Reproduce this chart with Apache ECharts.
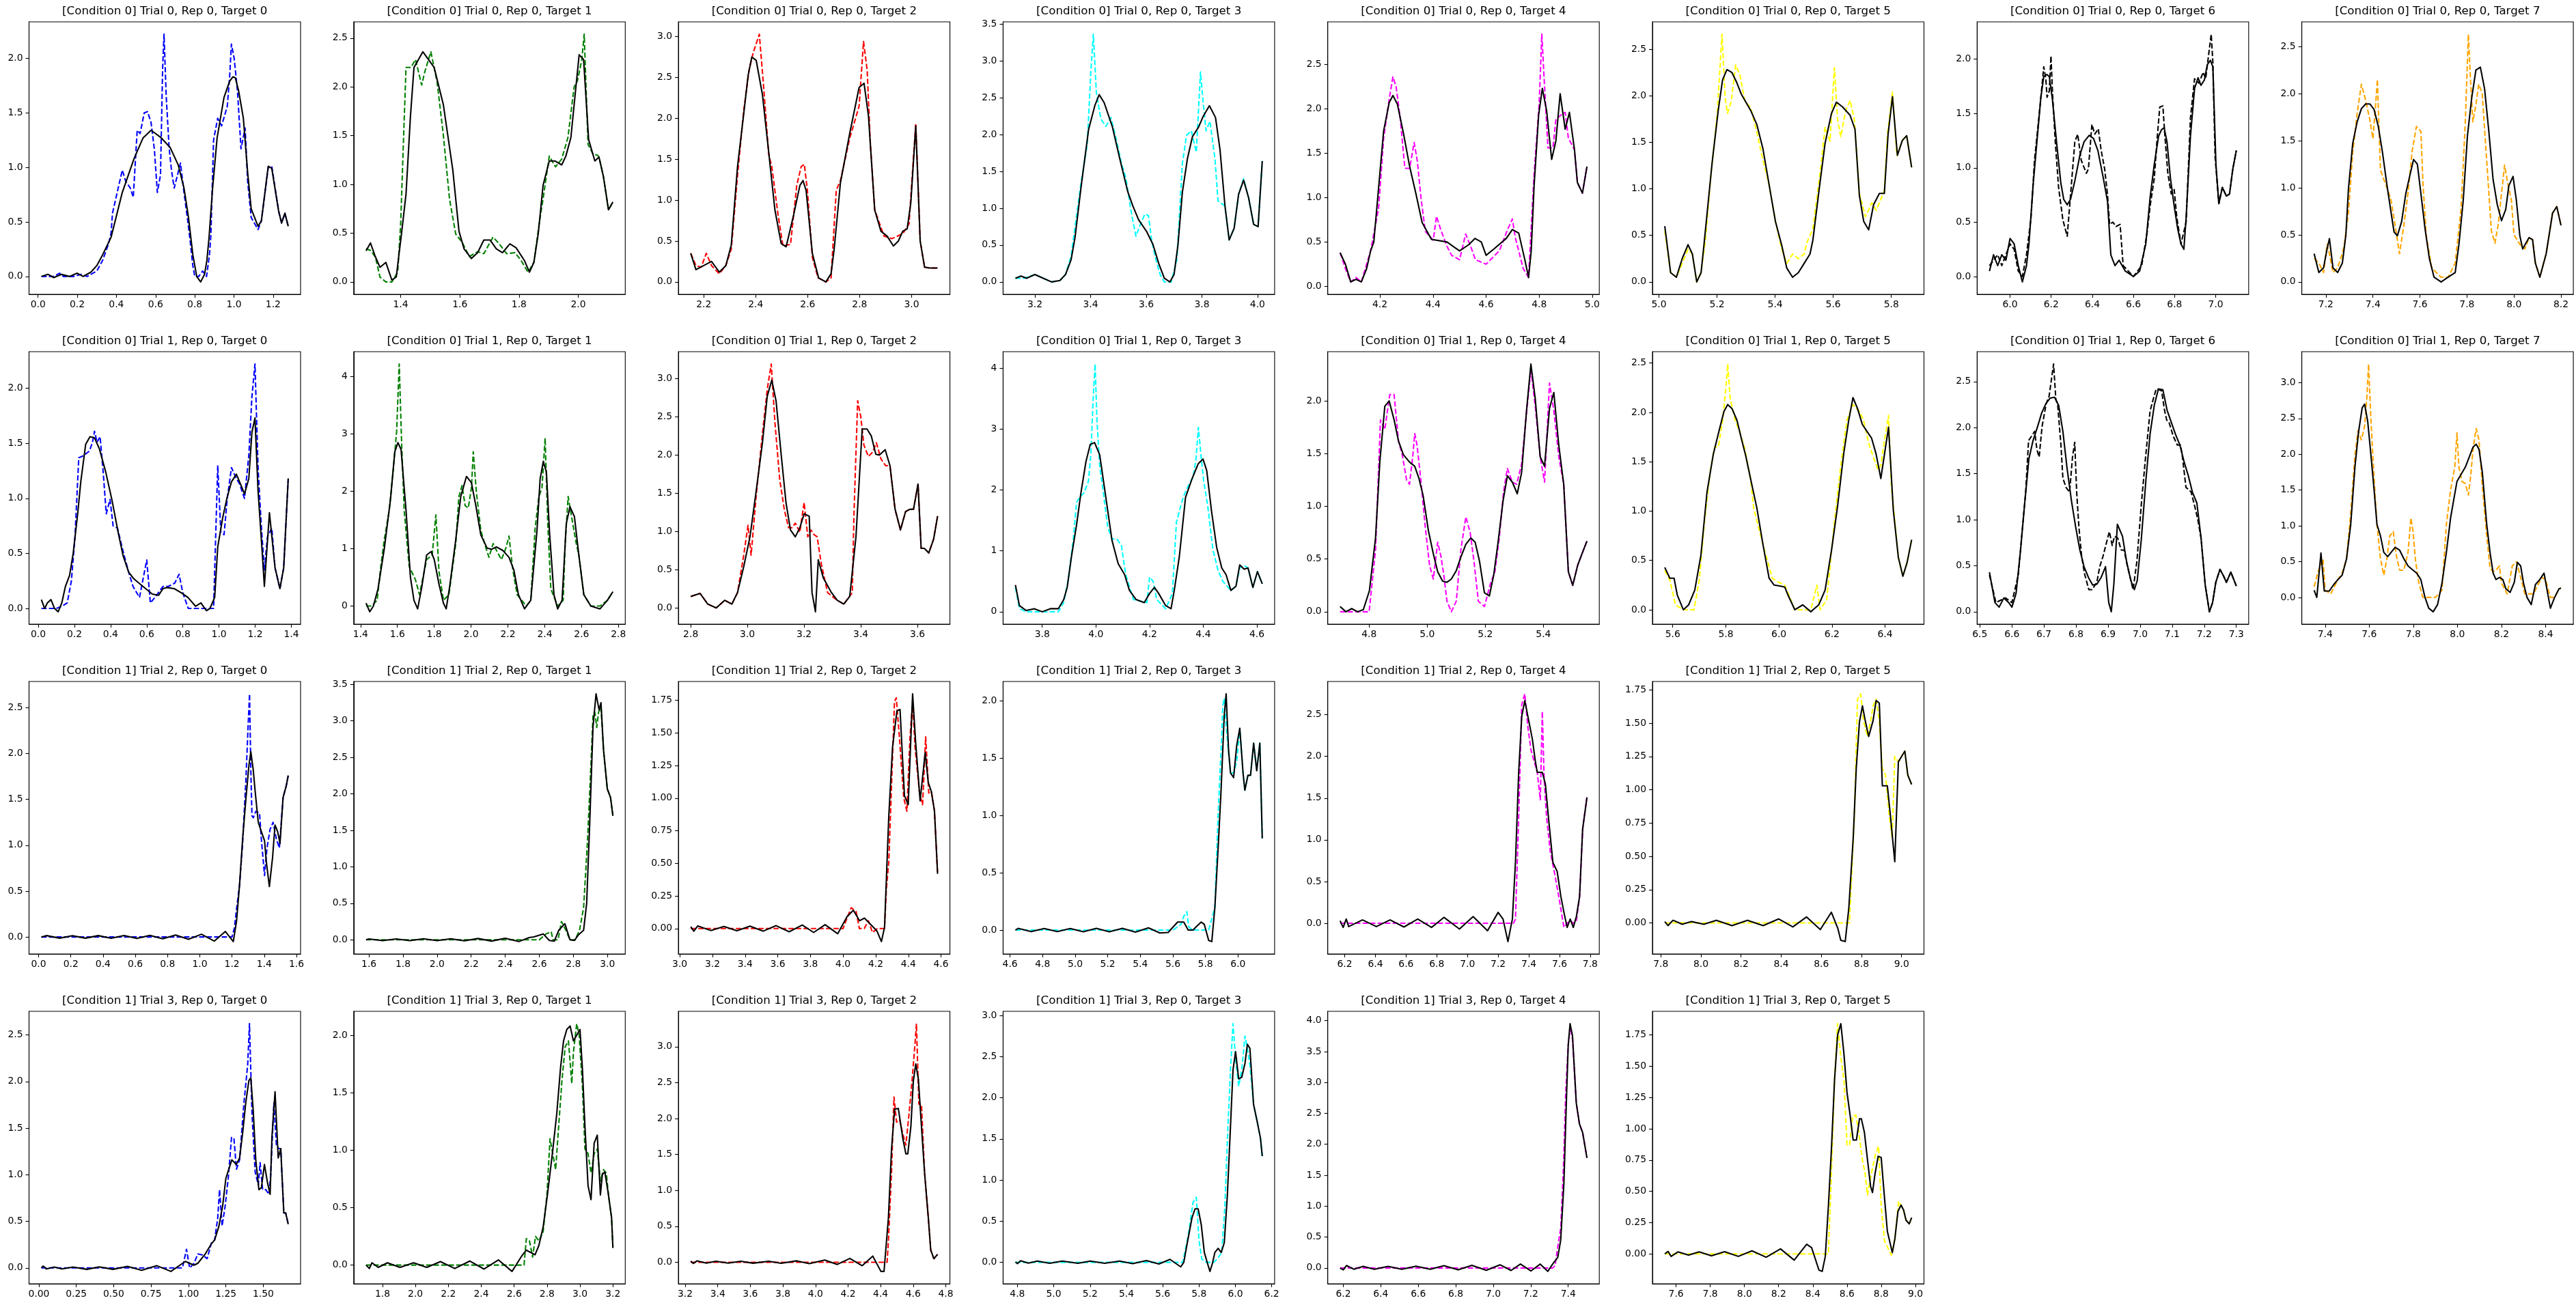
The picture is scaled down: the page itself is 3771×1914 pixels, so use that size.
<!DOCTYPE html>
<html><head><meta charset="utf-8">
<script src="https://cdn.jsdelivr.net/npm/echarts@6/dist/echarts.min.js"></script>
<style>html,body{margin:0;padding:0;background:#fff}#c{width:3771px;height:1914px}</style>
</head><body><div id="c"></div>
<script>
const targetColors = ['#0000ff','#008000','#ff0000','#00ffff','#ff00ff','#ffff00','#000000','#ffa500'];
const titles = [
 '[Condition 0] Trial 0, Rep 0, Target 0','[Condition 0] Trial 0, Rep 0, Target 1','[Condition 0] Trial 0, Rep 0, Target 2','[Condition 0] Trial 0, Rep 0, Target 3','[Condition 0] Trial 0, Rep 0, Target 4','[Condition 0] Trial 0, Rep 0, Target 5','[Condition 0] Trial 0, Rep 0, Target 6','[Condition 0] Trial 0, Rep 0, Target 7',
 '[Condition 0] Trial 1, Rep 0, Target 0','[Condition 0] Trial 1, Rep 0, Target 1','[Condition 0] Trial 1, Rep 0, Target 2','[Condition 0] Trial 1, Rep 0, Target 3','[Condition 0] Trial 1, Rep 0, Target 4','[Condition 0] Trial 1, Rep 0, Target 5','[Condition 0] Trial 1, Rep 0, Target 6','[Condition 0] Trial 1, Rep 0, Target 7',
 '[Condition 1] Trial 2, Rep 0, Target 0','[Condition 1] Trial 2, Rep 0, Target 1','[Condition 1] Trial 2, Rep 0, Target 2','[Condition 1] Trial 2, Rep 0, Target 3','[Condition 1] Trial 2, Rep 0, Target 4','[Condition 1] Trial 2, Rep 0, Target 5',
 '[Condition 1] Trial 3, Rep 0, Target 0','[Condition 1] Trial 3, Rep 0, Target 1','[Condition 1] Trial 3, Rep 0, Target 2','[Condition 1] Trial 3, Rep 0, Target 3','[Condition 1] Trial 3, Rep 0, Target 4','[Condition 1] Trial 3, Rep 0, Target 5'
];
const xTicks = [
 [0,0.2,0.4,0.6,0.8,1.0,1.2],[1.4,1.6,1.8,2.0],[2.2,2.4,2.6,2.8,3.0],[3.2,3.4,3.6,3.8,4.0],[4.2,4.4,4.6,4.8,5.0],[5.0,5.2,5.4,5.6,5.8],[6.0,6.2,6.4,6.6,6.8,7.0],[7.2,7.4,7.6,7.8,8.0,8.2],
 [0,0.2,0.4,0.6,0.8,1.0,1.2,1.4],[1.4,1.6,1.8,2.0,2.2,2.4,2.6,2.8],[2.8,3.0,3.2,3.4,3.6],[3.8,4.0,4.2,4.4,4.6],[4.8,5.0,5.2,5.4],[5.6,5.8,6.0,6.2,6.4],[6.5,6.6,6.7,6.8,6.9,7.0,7.1,7.2,7.3],[7.4,7.6,7.8,8.0,8.2,8.4],
 [0,0.2,0.4,0.6,0.8,1.0,1.2,1.4,1.6],[1.6,1.8,2.0,2.2,2.4,2.6,2.8,3.0],[3.0,3.2,3.4,3.6,3.8,4.0,4.2,4.4,4.6],[4.6,4.8,5.0,5.2,5.4,5.6,5.8,6.0],[6.2,6.4,6.6,6.8,7.0,7.2,7.4,7.6,7.8],[7.8,8.0,8.2,8.4,8.6,8.8,9.0],
 [0,0.25,0.5,0.75,1.0,1.25,1.5],[1.8,2.0,2.2,2.4,2.6,2.8,3.0,3.2],[3.2,3.4,3.6,3.8,4.0,4.2,4.4,4.6,4.8],[4.8,5.0,5.2,5.4,5.6,5.8,6.0,6.2],[6.2,6.4,6.6,6.8,7.0,7.2,7.4],[7.6,7.8,8.0,8.2,8.4,8.6,8.8,9.0]
];
const xDecimals = [1,1,1,1,1,1,1,1, 1,1,1,1,1,1,1,1, 1,1,1,1,1,1, 2,1,1,1,1,1];
const yTicks = [
 [0,0.5,1,1.5,2],[0,0.5,1,1.5,2,2.5],[0,0.5,1,1.5,2,2.5,3],[0,0.5,1,1.5,2,2.5,3,3.5],[0,0.5,1,1.5,2,2.5],[0,0.5,1,1.5,2,2.5],[0,0.5,1,1.5,2],[0,0.5,1,1.5,2,2.5],
 [0,0.5,1,1.5,2],[0,1,2,3,4],[0,0.5,1,1.5,2,2.5,3],[0,1,2,3,4],[0,0.5,1,1.5,2],[0,0.5,1,1.5,2,2.5],[0,0.5,1,1.5,2,2.5],[0,0.5,1,1.5,2,2.5,3],
 [0,0.5,1,1.5,2,2.5],[0,0.5,1,1.5,2,2.5,3,3.5],[0,0.25,0.5,0.75,1,1.25,1.5,1.75],[0,0.5,1,1.5,2],[0,0.5,1,1.5,2,2.5],[0,0.25,0.5,0.75,1,1.25,1.5,1.75],
 [0,0.5,1,1.5,2,2.5],[0,0.5,1,1.5,2],[0,0.5,1,1.5,2,2.5,3,3.5],[0,0.5,1,1.5,2,2.5,3],[0,0.5,1,1.5,2,2.5,3,3.5,4],[0,0.25,0.5,0.75,1,1.25,1.5,1.75]
];
const yDecimals = [1,1,1,1,1,1,1,1, 1,0,1,0,1,1,1,1, 1,1,2,1,1,2, 1,1,1,1,1,2];

// ---------- Condition 0, Trial 0 ----------
const c0t0g0_obs = [[0.017,0.0],[0.05,0.0],[0.08,0.0],[0.11,0.03],[0.13,0.0],[0.18,0.0],[0.22,0.02],[0.25,0.0],[0.3,0.05],[0.33,0.15],[0.36,0.3],[0.373,0.4],[0.38,0.58],[0.43,0.975],[0.448,0.87],[0.471,0.81],[0.486,0.725],[0.506,1.34],[0.521,1.31],[0.542,1.50],[0.559,1.51],[0.577,1.41],[0.594,1.16],[0.609,0.77],[0.625,0.93],[0.636,1.91],[0.643,2.22],[0.654,1.66],[0.669,1.18],[0.681,0.975],[0.695,0.81],[0.727,1.04],[0.745,0.77],[0.762,0.54],[0.775,0.35],[0.79,0.1],[0.8,0.0],[0.82,0.0],[0.84,0.05],[0.86,0.0],[0.875,0.2],[0.882,0.37],[0.896,1.25],[0.917,1.45],[0.937,1.38],[0.966,1.56],[0.978,1.83],[0.987,2.13],[1.001,2.0],[1.018,1.70],[1.036,1.17],[1.057,1.36],[1.07,0.87],[1.088,0.54],[1.123,0.43],[1.14,0.51],[1.175,1.0],[1.193,1.01],[1.228,0.60],[1.243,0.49],[1.26,0.58],[1.277,0.46]];
const c0t0g0_fit = [[0.017,0.0],[0.05,0.02],[0.08,-0.01],[0.12,0.02],[0.16,0.0],[0.2,0.03],[0.23,0.0],[0.27,0.04],[0.3,0.1],[0.33,0.2],[0.373,0.36],[0.43,0.77],[0.49,1.08],[0.536,1.27],[0.577,1.34],[0.629,1.27],[0.675,1.18],[0.716,1.02],[0.745,0.81],[0.768,0.54],[0.79,0.2],[0.81,0.0],[0.83,-0.05],[0.85,0.02],[0.862,0.15],[0.873,0.36],[0.891,0.81],[0.914,1.27],[0.949,1.64],[0.978,1.79],[0.995,1.83],[1.007,1.82],[1.024,1.70],[1.048,1.45],[1.07,0.95],[1.088,0.62],[1.123,0.46],[1.14,0.51],[1.175,1.01],[1.193,0.99],[1.228,0.60],[1.243,0.49],[1.26,0.58],[1.277,0.46]];
const c0t0g1_obs = [[1.283,0.34],[1.3,0.32],[1.315,0.25],[1.33,0.05],[1.35,0.0],[1.37,0.0],[1.39,0.1],[1.4,0.6],[1.41,1.5],[1.418,2.2],[1.435,2.2],[1.45,2.28],[1.471,2.02],[1.481,2.15],[1.502,2.36],[1.523,2.05],[1.544,1.51],[1.565,0.85],[1.586,0.49],[1.607,0.41],[1.632,0.26],[1.66,0.31],[1.681,0.29],[1.712,0.46],[1.733,0.39],[1.758,0.29],[1.786,0.3],[1.807,0.22],[1.83,0.1],[1.85,0.2],[1.868,0.6],[1.881,0.85],[1.902,1.29],[1.923,1.18],[1.944,1.26],[1.965,1.48],[1.986,2.0],[1.997,2.06],[2.012,2.28],[2.02,2.54],[2.033,1.41],[2.05,1.31],[2.065,1.30],[2.07,1.28],[2.085,1.08],[2.102,0.74],[2.117,0.82]];
const c0t0g1_fit = [[1.283,0.32],[1.298,0.40],[1.313,0.27],[1.33,0.15],[1.35,0.2],[1.37,0.02],[1.385,0.05],[1.403,0.5],[1.418,0.9],[1.433,1.7],[1.445,2.2],[1.475,2.36],[1.513,2.2],[1.544,1.82],[1.576,1.15],[1.597,0.52],[1.614,0.34],[1.639,0.24],[1.66,0.3],[1.681,0.43],[1.702,0.43],[1.723,0.34],[1.744,0.3],[1.769,0.39],[1.79,0.35],[1.818,0.22],[1.835,0.1],[1.85,0.2],[1.865,0.5],[1.881,0.99],[1.902,1.24],[1.922,1.24],[1.944,1.20],[1.958,1.29],[1.975,1.48],[1.992,2.0],[2.003,2.33],[2.018,2.28],[2.035,1.46],[2.056,1.24],[2.07,1.28],[2.085,1.08],[2.102,0.74],[2.117,0.82]];
const c0t0g2_obs = [[2.15,0.35],[2.17,0.2],[2.19,0.18],[2.21,0.35],[2.23,0.2],[2.26,0.1],[2.285,0.2],[2.306,0.4],[2.33,1.3],[2.354,2.1],[2.375,2.6],[2.39,2.8],[2.414,3.03],[2.43,2.41],[2.45,1.56],[2.462,1.41],[2.486,0.82],[2.505,0.44],[2.534,0.46],[2.558,1.18],[2.575,1.41],[2.587,1.44],[2.599,1.12],[2.618,0.3],[2.64,0.05],[2.67,0.0],[2.69,0.05],[2.71,1.12],[2.726,1.24],[2.762,1.76],[2.798,2.15],[2.815,2.94],[2.829,2.59],[2.841,1.71],[2.858,0.88],[2.894,0.56],[2.925,0.53],[2.966,0.59],[2.99,0.71],[3.016,1.94],[3.033,0.5],[3.05,0.18],[3.07,0.17],[3.1,0.17]];
const c0t0g2_fit = [[2.15,0.35],[2.17,0.15],[2.2,0.2],[2.23,0.25],[2.26,0.12],[2.285,0.2],[2.306,0.45],[2.33,1.41],[2.354,2.06],[2.371,2.53],[2.385,2.75],[2.402,2.71],[2.426,2.29],[2.45,1.59],[2.474,0.88],[2.498,0.47],[2.517,0.43],[2.546,0.82],[2.57,1.18],[2.582,1.24],[2.594,1.12],[2.618,0.35],[2.642,0.05],[2.67,0.0],[2.69,0.1],[2.702,0.4],[2.726,1.21],[2.762,1.82],[2.798,2.38],[2.817,2.43],[2.834,2.03],[2.858,0.88],[2.882,0.62],[2.906,0.56],[2.93,0.44],[2.949,0.5],[2.966,0.62],[2.983,0.65],[2.997,0.97],[3.016,1.91],[3.033,0.5],[3.05,0.18],[3.07,0.17],[3.085,0.17],[3.1,0.17]];
const c0t0g3_obs = [[3.13,0.05],[3.16,0.05],[3.2,0.1],[3.23,0.05],[3.26,0.0],[3.29,0.02],[3.31,0.1],[3.33,0.35],[3.366,1.35],[3.388,1.86],[3.401,2.85],[3.41,3.36],[3.421,2.56],[3.437,2.21],[3.455,2.11],[3.473,2.23],[3.489,1.99],[3.511,1.61],[3.527,1.41],[3.545,0.97],[3.563,0.62],[3.579,0.78],[3.595,0.92],[3.608,0.90],[3.62,0.55],[3.635,0.3],[3.65,0.1],[3.665,0.0],[3.69,0.0],[3.71,0.3],[3.73,1.61],[3.745,1.99],[3.762,2.05],[3.78,1.76],[3.795,2.85],[3.804,2.46],[3.815,2.05],[3.829,2.18],[3.847,1.67],[3.858,1.1],[3.883,1.03],[3.898,0.57],[3.916,0.73],[3.932,1.19],[3.95,1.40],[3.968,1.14],[3.986,0.78],[4.002,0.75],[4.017,1.64]];
const c0t0g3_fit = [[3.13,0.05],[3.15,0.08],[3.17,0.05],[3.2,0.1],[3.23,0.05],[3.26,0.0],[3.29,0.02],[3.31,0.1],[3.33,0.3],[3.344,0.6],[3.366,1.29],[3.393,2.07],[3.416,2.40],[3.431,2.54],[3.449,2.43],[3.478,2.11],[3.505,1.67],[3.534,1.22],[3.552,1.03],[3.573,0.84],[3.602,0.68],[3.624,0.51],[3.645,0.25],[3.665,0.05],[3.685,0.0],[3.7,0.1],[3.714,0.5],[3.73,1.22],[3.748,1.67],[3.766,1.97],[3.788,2.10],[3.804,2.24],[3.827,2.39],[3.849,2.23],[3.865,1.80],[3.883,1.03],[3.898,0.57],[3.916,0.73],[3.932,1.19],[3.95,1.38],[3.968,1.14],[3.986,0.78],[4.002,0.75],[4.017,1.64]];
const c0t0g4_obs = [[4.05,0.38],[4.07,0.2],[4.09,0.05],[4.11,0.1],[4.13,0.05],[4.15,0.25],[4.165,0.4],[4.195,0.88],[4.214,1.67],[4.235,2.11],[4.249,2.36],[4.261,2.25],[4.277,1.88],[4.294,1.33],[4.312,1.33],[4.329,1.62],[4.341,1.41],[4.355,0.99],[4.371,0.62],[4.401,0.52],[4.413,0.79],[4.429,0.64],[4.453,0.45],[4.47,0.35],[4.5,0.3],[4.523,0.59],[4.542,0.45],[4.56,0.3],[4.6,0.25],[4.65,0.4],[4.681,0.64],[4.699,0.76],[4.71,0.55],[4.74,0.2],[4.76,0.1],[4.781,1.27],[4.8,2.06],[4.81,2.84],[4.819,2.32],[4.833,1.56],[4.852,1.56],[4.863,1.88],[4.886,1.94],[4.898,1.96],[4.91,1.67],[4.933,1.54],[4.944,1.17],[4.963,1.05],[4.98,1.35]];
const c0t0g4_fit = [[4.05,0.38],[4.07,0.25],[4.09,0.05],[4.11,0.08],[4.13,0.05],[4.15,0.2],[4.165,0.4],[4.177,0.5],[4.214,1.75],[4.235,2.07],[4.249,2.15],[4.266,2.05],[4.289,1.72],[4.312,1.35],[4.336,1.04],[4.359,0.72],[4.394,0.53],[4.453,0.5],[4.476,0.45],[4.5,0.4],[4.535,0.47],[4.558,0.54],[4.582,0.5],[4.6,0.35],[4.629,0.42],[4.676,0.54],[4.699,0.64],[4.723,0.6],[4.746,0.3],[4.76,0.1],[4.77,0.4],[4.781,1.14],[4.798,1.93],[4.812,2.23],[4.828,1.98],[4.847,1.43],[4.863,1.64],[4.879,2.17],[4.898,1.77],[4.914,1.96],[4.933,1.54],[4.944,1.17],[4.963,1.05],[4.98,1.35]];
const c0t0g5_obs = [[5.02,0.55],[5.04,0.1],[5.06,0.05],[5.08,0.2],[5.1,0.35],[5.115,0.3],[5.13,0.0],[5.145,0.1],[5.16,0.45],[5.179,1.15],[5.2,1.79],[5.217,2.66],[5.228,1.97],[5.236,1.81],[5.249,1.94],[5.264,2.33],[5.279,2.22],[5.296,1.94],[5.316,1.87],[5.337,1.61],[5.358,1.31],[5.38,1.03],[5.401,0.65],[5.423,0.35],[5.44,0.2],[5.46,0.3],[5.48,0.25],[5.5,0.3],[5.509,0.42],[5.53,0.57],[5.555,1.18],[5.572,1.66],[5.589,1.51],[5.604,2.30],[5.615,1.74],[5.626,1.56],[5.643,1.84],[5.658,1.95],[5.673,1.74],[5.69,0.95],[5.711,0.70],[5.733,0.85],[5.748,0.77],[5.776,0.98],[5.787,1.59],[5.804,2.04],[5.819,1.36],[5.838,1.52],[5.853,1.57],[5.87,1.23]];
const c0t0g5_fit = [[5.02,0.60],[5.04,0.1],[5.06,0.05],[5.08,0.25],[5.1,0.4],[5.115,0.3],[5.13,0.0],[5.145,0.1],[5.155,0.4],[5.183,1.28],[5.204,1.84],[5.219,2.17],[5.234,2.28],[5.251,2.25],[5.268,2.14],[5.283,2.02],[5.316,1.84],[5.337,1.69],[5.358,1.43],[5.38,1.03],[5.401,0.65],[5.423,0.39],[5.44,0.15],[5.46,0.05],[5.48,0.1],[5.5,0.2],[5.52,0.3],[5.53,0.45],[5.551,0.98],[5.572,1.49],[5.594,1.81],[5.611,1.93],[5.632,1.88],[5.658,1.79],[5.675,1.64],[5.69,0.93],[5.705,0.65],[5.722,0.56],[5.739,0.83],[5.759,0.95],[5.776,0.95],[5.789,1.59],[5.804,1.99],[5.821,1.36],[5.838,1.52],[5.853,1.57],[5.87,1.23]];
const c0t0g6_obs = [[5.9,0.1],[5.92,0.15],[5.94,0.2],[5.96,0.1],[5.98,0.2],[6.0,0.3],[6.02,0.25],[6.04,0.05],[6.06,0.0],[6.08,0.2],[6.102,0.54],[6.119,1.07],[6.14,1.46],[6.154,1.73],[6.164,1.93],[6.174,1.82],[6.18,1.65],[6.191,1.71],[6.199,2.03],[6.207,1.67],[6.22,1.24],[6.236,0.82],[6.257,0.52],[6.278,0.37],[6.298,0.84],[6.315,1.24],[6.329,1.31],[6.346,1.07],[6.371,0.95],[6.381,0.99],[6.398,1.40],[6.412,1.31],[6.429,1.36],[6.443,1.16],[6.46,0.99],[6.474,0.75],[6.484,0.48],[6.5,0.50],[6.515,0.46],[6.535,0.48],[6.55,0.1],[6.6,0.0],[6.64,0.1],[6.666,0.4],[6.681,0.65],[6.701,0.90],[6.716,1.29],[6.728,1.56],[6.743,1.57],[6.753,1.29],[6.767,0.95],[6.784,0.76],[6.798,0.80],[6.811,0.54],[6.831,0.3],[6.856,0.5],[6.877,1.46],[6.897,1.82],[6.918,1.78],[6.939,1.88],[6.951,1.82],[6.966,2.05],[6.978,2.23],[6.986,1.97],[6.997,1.10],[7.015,0.67],[7.032,0.82],[7.052,0.74],[7.067,0.76],[7.083,0.99],[7.1,1.16]];
const c0t0g6_fit = [[5.9,0.05],[5.92,0.2],[5.94,0.1],[5.96,0.2],[5.98,0.15],[6.0,0.35],[6.02,0.3],[6.04,0.1],[6.06,-0.05],[6.08,0.1],[6.092,0.3],[6.113,0.86],[6.133,1.29],[6.15,1.65],[6.164,1.84],[6.179,1.86],[6.191,1.84],[6.206,1.63],[6.226,1.24],[6.247,0.86],[6.261,0.71],[6.278,0.66],[6.294,0.71],[6.315,0.88],[6.34,1.12],[6.36,1.24],[6.385,1.30],[6.406,1.27],[6.427,1.16],[6.453,0.91],[6.474,0.69],[6.49,0.2],[6.51,0.1],[6.53,0.15],[6.56,0.05],[6.6,0.0],[6.63,0.05],[6.66,0.3],[6.681,0.73],[6.701,1.03],[6.722,1.29],[6.736,1.35],[6.749,1.37],[6.763,1.24],[6.78,0.90],[6.798,0.65],[6.815,0.44],[6.831,0.3],[6.845,0.25],[6.856,0.54],[6.877,1.29],[6.897,1.73],[6.914,1.83],[6.928,1.76],[6.945,1.81],[6.959,1.95],[6.974,1.99],[6.986,1.93],[7.001,1.03],[7.015,0.67],[7.032,0.82],[7.052,0.74],[7.067,0.76],[7.083,0.99],[7.1,1.16]];
const c0t0g7_obs = [[7.15,0.25],[7.17,0.2],[7.19,0.1],[7.205,0.4],[7.215,0.3],[7.23,0.1],[7.25,0.15],[7.27,0.3],[7.278,0.39],[7.296,0.74],[7.314,1.37],[7.333,1.79],[7.351,2.10],[7.369,1.93],[7.387,1.72],[7.4,1.52],[7.41,1.83],[7.419,2.15],[7.432,1.19],[7.446,1.09],[7.464,0.97],[7.477,0.87],[7.495,0.59],[7.513,0.3],[7.531,0.59],[7.549,0.94],[7.567,1.39],[7.585,1.65],[7.604,1.60],[7.613,1.04],[7.627,0.49],[7.65,0.15],[7.69,0.05],[7.72,0.05],[7.75,0.2],[7.775,0.78],[7.793,1.70],[7.806,2.63],[7.815,2.15],[7.825,1.70],[7.838,1.88],[7.85,2.10],[7.865,2.0],[7.879,1.47],[7.892,0.99],[7.904,0.54],[7.919,0.41],[7.933,0.61],[7.947,0.94],[7.96,1.24],[7.974,1.04],[7.989,0.87],[8.0,0.5],[8.025,0.4],[8.046,0.35],[8.064,0.47],[8.079,0.45],[8.091,0.2],[8.11,0.05],[8.137,0.3],[8.164,0.73],[8.182,0.80],[8.2,0.60]];
const c0t0g7_fit = [[7.15,0.3],[7.17,0.1],[7.19,0.15],[7.205,0.35],[7.215,0.46],[7.23,0.15],[7.25,0.1],[7.27,0.2],[7.285,0.5],[7.296,0.99],[7.314,1.47],[7.333,1.70],[7.351,1.84],[7.369,1.89],[7.387,1.89],[7.405,1.83],[7.423,1.65],[7.441,1.37],[7.459,1.04],[7.477,0.74],[7.49,0.53],[7.504,0.49],[7.522,0.64],[7.54,0.94],[7.558,1.14],[7.573,1.30],[7.589,1.25],[7.604,0.94],[7.622,0.56],[7.64,0.25],[7.66,0.05],[7.69,0.0],[7.72,0.05],[7.75,0.1],[7.766,0.4],[7.784,0.86],[7.802,1.55],[7.82,1.95],[7.838,2.25],[7.857,2.28],[7.875,2.05],[7.893,1.60],[7.911,1.09],[7.929,0.82],[7.947,0.65],[7.965,0.77],[7.978,1.02],[7.996,1.12],[8.01,0.87],[8.025,0.49],[8.037,0.35],[8.046,0.39],[8.064,0.47],[8.079,0.45],[8.091,0.2],[8.11,0.05],[8.137,0.3],[8.164,0.73],[8.182,0.80],[8.2,0.60]];

// ---------- Condition 0, Trial 1 ----------
const c0t1g0_obs = [[0.017,0.0],[0.04,0.0],[0.07,0.0],[0.1,0.0],[0.13,0.02],[0.16,0.05],[0.183,0.25],[0.203,0.65],[0.224,1.37],[0.241,1.38],[0.259,1.40],[0.283,1.43],[0.3,1.51],[0.311,1.61],[0.325,1.51],[0.342,1.56],[0.359,1.24],[0.376,0.86],[0.397,0.99],[0.414,0.75],[0.438,0.73],[0.472,0.5],[0.5,0.33],[0.524,0.2],[0.56,0.1],[0.6,0.44],[0.62,0.05],[0.645,0.1],[0.69,0.20],[0.72,0.2],[0.755,0.23],[0.779,0.31],[0.8,0.14],[0.83,0.0],[0.9,0.0],[0.97,0.0],[0.993,1.30],[1.01,0.69],[1.028,0.67],[1.045,0.99],[1.069,1.28],[1.09,1.20],[1.114,1.13],[1.141,1.0],[1.165,1.39],[1.182,1.92],[1.199,2.22],[1.216,1.28],[1.234,0.75],[1.251,0.35],[1.268,0.65],[1.292,0.73],[1.31,0.37],[1.337,0.18],[1.358,0.37],[1.383,1.18]];
const c0t1g0_fit = [[0.017,0.08],[0.035,0.0],[0.05,0.05],[0.07,0.08],[0.09,0.0],[0.11,-0.03],[0.13,0.05],[0.15,0.2],[0.173,0.3],[0.193,0.5],[0.218,0.86],[0.235,1.15],[0.262,1.49],[0.286,1.56],[0.311,1.55],[0.338,1.45],[0.373,1.24],[0.407,0.99],[0.442,0.69],[0.469,0.48],[0.5,0.33],[0.528,0.27],[0.579,0.20],[0.631,0.13],[0.666,0.12],[0.69,0.18],[0.71,0.19],[0.752,0.18],[0.793,0.14],[0.828,0.1],[0.87,0.02],[0.9,0.05],[0.93,-0.02],[0.95,0.0],[0.976,0.1],[0.993,0.56],[1.02,0.82],[1.045,1.01],[1.069,1.15],[1.096,1.22],[1.124,1.11],[1.141,1.04],[1.165,1.18],[1.182,1.60],[1.199,1.73],[1.216,1.07],[1.241,0.46],[1.251,0.20],[1.279,0.87],[1.31,0.37],[1.337,0.18],[1.358,0.37],[1.383,1.18]];
const c0t1g1_obs = [[1.43,0.0],[1.46,0.0],[1.49,0.1],[1.51,0.69],[1.529,1.16],[1.556,1.67],[1.58,2.46],[1.596,3.05],[1.61,4.22],[1.623,2.85],[1.637,1.67],[1.664,0.69],[1.698,0.46],[1.72,0.2],[1.759,0.81],[1.789,0.89],[1.809,1.59],[1.826,0.6],[1.85,0.1],[1.88,0.2],[1.917,1.09],[1.934,1.91],[1.951,2.10],[1.968,1.75],[1.985,1.71],[2.002,2.06],[2.012,2.69],[2.029,1.98],[2.053,1.32],[2.077,1.05],[2.097,0.85],[2.12,1.09],[2.138,0.97],[2.165,0.81],[2.189,1.01],[2.206,1.22],[2.226,0.65],[2.25,0.2],[2.3,0.0],[2.324,0.1],[2.348,1.36],[2.368,1.91],[2.385,2.06],[2.402,2.93],[2.416,1.48],[2.433,0.3],[2.47,0.0],[2.5,0.1],[2.511,1.09],[2.527,1.91],[2.544,1.59],[2.571,1.09],[2.585,0.89],[2.612,0.2],[2.65,0.0],[2.7,0.0],[2.74,0.1],[2.77,0.25]];
const c0t1g1_fit = [[1.43,0.05],[1.45,-0.1],[1.47,0.0],[1.495,0.30],[1.529,1.0],[1.563,1.87],[1.586,2.69],[1.603,2.85],[1.62,2.73],[1.647,1.67],[1.671,0.50],[1.69,0.1],[1.71,-0.05],[1.732,0.32],[1.759,0.89],[1.783,0.95],[1.8,0.81],[1.826,0.38],[1.85,0.05],[1.865,-0.05],[1.884,0.34],[1.917,1.16],[1.944,1.91],[1.975,2.26],[2.002,2.15],[2.026,1.75],[2.053,1.24],[2.087,1.01],[2.111,0.99],[2.138,1.03],[2.172,0.97],[2.206,0.85],[2.233,0.62],[2.257,0.2],[2.29,-0.05],[2.324,0.1],[2.358,1.32],[2.375,2.22],[2.392,2.52],[2.409,2.34],[2.426,1.28],[2.45,0.2],[2.47,-0.05],[2.494,0.1],[2.517,1.44],[2.537,1.73],[2.561,1.56],[2.585,0.89],[2.612,0.2],[2.65,0.0],[2.7,-0.05],[2.74,0.1],[2.77,0.25]];
const c0t1g2_obs = [[2.8,0.15],[2.833,0.19],[2.86,0.05],[2.89,0.0],[2.92,0.1],[2.945,0.05],[2.965,0.2],[2.987,0.69],[3.002,1.08],[3.013,0.69],[3.031,1.47],[3.053,2.28],[3.07,2.86],[3.084,3.19],[3.097,2.43],[3.114,1.68],[3.13,1.29],[3.145,1.05],[3.158,1.05],[3.169,1.11],[3.185,0.99],[3.2,1.38],[3.213,0.93],[3.224,1.02],[3.235,0.96],[3.246,0.93],[3.261,0.57],[3.283,0.2],[3.317,0.1],[3.34,0.05],[3.37,0.2],[3.376,1.23],[3.389,2.71],[3.4,2.50],[3.411,2.13],[3.427,1.98],[3.442,2.04],[3.455,2.16],[3.471,1.95],[3.488,1.86],[3.503,1.86],[3.521,1.29],[3.54,1.02],[3.558,1.26],[3.573,1.29],[3.586,1.29],[3.602,1.62],[3.613,0.78],[3.624,0.78],[3.64,0.72],[3.657,0.90],[3.671,1.20]];
const c0t1g2_fit = [[2.8,0.15],[2.833,0.19],[2.86,0.05],[2.89,0.0],[2.92,0.1],[2.945,0.05],[2.965,0.2],[2.987,0.54],[3.009,0.93],[3.031,1.53],[3.053,2.16],[3.07,2.77],[3.086,2.98],[3.101,2.71],[3.119,2.01],[3.136,1.38],[3.152,1.02],[3.169,0.93],[3.185,1.05],[3.2,1.23],[3.218,1.20],[3.228,0.2],[3.24,-0.05],[3.25,0.63],[3.268,0.39],[3.295,0.21],[3.317,0.1],[3.34,0.05],[3.361,0.15],[3.383,0.93],[3.405,2.34],[3.422,2.34],[3.437,2.25],[3.453,2.01],[3.466,2.0],[3.486,2.07],[3.503,1.86],[3.521,1.29],[3.54,1.02],[3.558,1.26],[3.573,1.29],[3.586,1.29],[3.602,1.62],[3.613,0.78],[3.624,0.78],[3.64,0.72],[3.657,0.90],[3.671,1.20]];
const c0t1g3_obs = [[3.7,0.4],[3.715,0.05],[3.74,0.0],[3.8,0.0],[3.86,0.0],[3.88,0.15],[3.897,0.53],[3.916,1.20],[3.928,1.80],[3.939,1.88],[3.955,1.95],[3.972,2.14],[3.981,2.58],[3.99,3.52],[3.997,4.07],[4.004,3.14],[4.014,2.40],[4.028,1.95],[4.044,1.39],[4.06,1.20],[4.079,1.19],[4.095,1.09],[4.111,0.61],[4.14,0.2],[4.19,0.15],[4.2,0.57],[4.213,0.50],[4.227,0.2],[4.26,0.05],[4.285,0.3],[4.3,1.47],[4.325,1.88],[4.343,2.06],[4.362,2.21],[4.373,2.51],[4.382,3.03],[4.392,2.55],[4.401,2.17],[4.417,1.73],[4.436,1.02],[4.455,0.68],[4.473,0.5],[4.503,0.35],[4.522,0.42],[4.536,0.72],[4.552,0.76],[4.567,0.72],[4.585,0.40],[4.602,0.66],[4.62,0.46]];
const c0t1g3_fit = [[3.7,0.44],[3.715,0.1],[3.74,0.02],[3.77,0.05],[3.8,0.0],[3.83,0.05],[3.86,0.05],[3.88,0.2],[3.893,0.4],[3.909,0.91],[3.928,1.43],[3.944,1.95],[3.963,2.47],[3.979,2.75],[3.995,2.78],[4.014,2.58],[4.037,1.88],[4.06,1.17],[4.083,0.79],[4.107,0.61],[4.125,0.35],[4.15,0.2],[4.18,0.15],[4.2,0.3],[4.218,0.40],[4.234,0.3],[4.26,0.1],[4.28,0.05],[4.292,0.35],[4.311,0.91],[4.334,1.88],[4.357,2.17],[4.381,2.43],[4.399,2.51],[4.413,2.32],[4.431,1.65],[4.45,1.06],[4.469,0.72],[4.485,0.61],[4.503,0.35],[4.522,0.42],[4.536,0.77],[4.552,0.70],[4.567,0.72],[4.585,0.40],[4.602,0.66],[4.62,0.46]];
const c0t1g4_obs = [[4.7,0.0],[4.75,0.0],[4.8,0.0],[4.822,0.59],[4.839,1.82],[4.854,1.73],[4.871,2.06],[4.886,2.06],[4.901,1.62],[4.914,1.49],[4.929,1.25],[4.939,1.21],[4.95,1.47],[4.957,1.69],[4.965,1.58],[4.978,1.25],[4.993,0.81],[5.008,0.44],[5.021,0.31],[5.036,0.66],[5.047,0.53],[5.057,0.35],[5.068,0.1],[5.083,0.0],[5.1,0.1],[5.116,0.59],[5.133,0.90],[5.148,0.75],[5.161,0.48],[5.176,0.1],[5.197,0.05],[5.218,0.27],[5.233,0.38],[5.248,0.70],[5.263,1.14],[5.276,1.36],[5.293,1.23],[5.308,1.21],[5.325,1.40],[5.342,1.89],[5.357,2.30],[5.372,1.95],[5.389,1.47],[5.404,1.23],[5.421,2.17],[5.436,1.91],[5.453,1.47],[5.47,1.21],[5.486,0.38],[5.501,0.25],[5.518,0.44],[5.533,0.55],[5.55,0.67]];
const c0t1g4_fit = [[4.7,0.05],[4.72,0.0],[4.74,0.03],[4.76,0.0],[4.78,0.02],[4.801,0.2],[4.822,0.70],[4.837,1.43],[4.854,1.95],[4.869,2.0],[4.886,1.82],[4.901,1.62],[4.918,1.49],[4.939,1.42],[4.957,1.38],[4.971,1.27],[4.986,1.10],[5.004,0.77],[5.021,0.55],[5.036,0.38],[5.053,0.29],[5.068,0.28],[5.083,0.31],[5.1,0.39],[5.116,0.52],[5.133,0.64],[5.15,0.70],[5.165,0.66],[5.18,0.48],[5.197,0.18],[5.214,0.15],[5.229,0.35],[5.244,0.66],[5.261,1.05],[5.276,1.29],[5.293,1.23],[5.31,1.12],[5.325,1.32],[5.342,1.91],[5.357,2.35],[5.372,2.02],[5.389,1.47],[5.404,1.38],[5.421,1.93],[5.436,2.08],[5.453,1.58],[5.47,1.21],[5.486,0.38],[5.501,0.25],[5.518,0.44],[5.533,0.55],[5.55,0.67]];
const c0t1g5_obs = [[5.57,0.4],[5.589,0.3],[5.61,0.05],[5.64,0.0],[5.68,0.0],[5.7,0.3],[5.72,0.9],[5.741,1.40],[5.758,1.65],[5.772,1.65],[5.788,1.92],[5.8,2.24],[5.807,2.49],[5.816,2.15],[5.835,1.92],[5.851,1.81],[5.87,1.65],[5.893,1.33],[5.905,1.03],[5.94,0.66],[5.975,0.32],[5.998,0.28],[6.022,0.25],[6.045,0.1],[6.06,0.0],[6.1,0.0],[6.12,0.0],[6.143,0.25],[6.155,0.0],[6.18,0.1],[6.209,0.89],[6.233,1.46],[6.256,1.92],[6.279,2.08],[6.303,2.01],[6.319,1.92],[6.338,1.69],[6.354,1.56],[6.373,1.42],[6.384,1.46],[6.396,1.69],[6.413,1.97],[6.424,1.24],[6.45,0.53],[6.467,0.34],[6.483,0.48],[6.5,0.71]];
const c0t1g5_fit = [[5.57,0.43],[5.589,0.32],[5.605,0.32],[5.617,0.15],[5.64,0.0],[5.66,0.05],[5.683,0.2],[5.706,0.55],[5.729,1.19],[5.753,1.58],[5.776,1.83],[5.793,2.01],[5.807,2.08],[5.823,2.04],[5.842,1.92],[5.858,1.74],[5.875,1.56],[5.893,1.33],[5.917,1.03],[5.94,0.66],[5.963,0.32],[5.982,0.25],[6.005,0.24],[6.022,0.23],[6.034,0.15],[6.06,0.0],[6.09,0.05],[6.12,-0.02],[6.15,0.05],[6.174,0.2],[6.198,0.60],[6.221,1.05],[6.244,1.58],[6.263,1.92],[6.279,2.15],[6.296,2.04],[6.314,1.88],[6.331,1.81],[6.349,1.74],[6.366,1.58],[6.384,1.33],[6.413,1.85],[6.431,1.01],[6.45,0.53],[6.467,0.34],[6.483,0.48],[6.5,0.71]];
const c0t1g6_obs = [[6.53,0.4],[6.55,0.1],[6.58,0.15],[6.6,0.1],[6.62,0.4],[6.63,0.80],[6.643,1.30],[6.652,1.86],[6.662,1.91],[6.671,1.96],[6.678,1.76],[6.685,1.68],[6.694,2.01],[6.707,2.26],[6.716,2.34],[6.724,2.54],[6.73,2.69],[6.737,2.31],[6.743,2.24],[6.753,1.81],[6.759,1.45],[6.769,1.35],[6.78,1.30],[6.789,1.68],[6.796,1.84],[6.802,1.30],[6.809,0.92],[6.817,0.62],[6.826,0.42],[6.84,0.24],[6.85,0.24],[6.865,0.32],[6.874,0.49],[6.884,0.60],[6.895,0.75],[6.904,0.87],[6.913,0.72],[6.92,0.82],[6.93,0.80],[6.941,0.67],[6.95,0.67],[6.96,0.5],[6.978,0.24],[6.99,0.55],[7.004,1.18],[7.017,1.68],[7.031,2.18],[7.041,2.31],[7.05,2.42],[7.059,2.41],[7.067,2.40],[7.076,2.19],[7.083,2.08],[7.09,2.06],[7.103,1.91],[7.116,1.81],[7.126,1.81],[7.132,1.68],[7.143,1.35],[7.15,1.33],[7.159,1.30],[7.17,1.15],[7.18,1.0],[7.19,0.80],[7.203,0.29],[7.216,0.0],[7.226,0.1],[7.236,0.32],[7.249,0.46],[7.26,0.39],[7.269,0.32],[7.283,0.43],[7.3,0.28]];
const c0t1g6_fit = [[6.53,0.43],[6.547,0.1],[6.56,0.05],[6.575,0.15],[6.59,0.1],[6.6,0.05],[6.613,0.2],[6.627,0.67],[6.64,1.18],[6.653,1.66],[6.666,1.86],[6.68,2.01],[6.693,2.16],[6.706,2.26],[6.719,2.32],[6.733,2.33],[6.746,2.24],[6.759,1.96],[6.772,1.56],[6.786,1.20],[6.799,0.92],[6.812,0.67],[6.825,0.49],[6.839,0.37],[6.852,0.29],[6.865,0.30],[6.878,0.37],[6.892,0.49],[6.902,0.1],[6.91,0.0],[6.918,0.3],[6.929,0.95],[6.945,0.82],[6.958,0.54],[6.971,0.34],[6.982,0.24],[6.991,0.34],[7.004,0.80],[7.018,1.43],[7.031,1.93],[7.044,2.24],[7.057,2.42],[7.071,2.41],[7.084,2.19],[7.097,2.06],[7.11,1.93],[7.124,1.81],[7.137,1.63],[7.15,1.48],[7.163,1.30],[7.177,1.18],[7.19,0.80],[7.203,0.29],[7.216,0.0],[7.226,0.1],[7.236,0.32],[7.249,0.46],[7.26,0.39],[7.269,0.32],[7.283,0.43],[7.3,0.28]];
const c0t1g7_obs = [[7.35,0.15],[7.367,0.35],[7.39,0.54],[7.4,0.1],[7.425,0.05],[7.458,0.25],[7.477,0.34],[7.497,0.54],[7.516,1.18],[7.535,1.98],[7.549,2.33],[7.564,2.20],[7.579,2.39],[7.589,2.78],[7.597,3.26],[7.608,2.46],[7.622,1.66],[7.635,1.02],[7.651,0.54],[7.666,0.31],[7.68,0.54],[7.693,0.86],[7.709,0.92],[7.722,0.60],[7.738,0.38],[7.757,0.38],[7.776,0.63],[7.789,1.11],[7.799,0.92],[7.809,0.54],[7.824,0.22],[7.843,0.0],[7.9,0.0],[7.93,0.1],[7.95,1.02],[7.969,1.50],[7.988,1.82],[7.998,2.30],[8.007,1.82],[8.021,1.62],[8.036,1.59],[8.05,1.43],[8.06,1.69],[8.071,2.07],[8.085,2.36],[8.098,2.20],[8.113,1.56],[8.133,0.86],[8.148,0.41],[8.162,0.36],[8.175,0.38],[8.191,0.44],[8.2,0.2],[8.226,0.05],[8.249,0.44],[8.268,0.50],[8.287,0.28],[8.306,0.05],[8.345,0.05],[8.383,0.28],[8.4,0.25],[8.422,0.0],[8.441,0.0],[8.461,0.12],[8.47,0.13]];
const c0t1g7_fit = [[7.35,0.10],[7.362,0.0],[7.381,0.62],[7.396,0.09],[7.419,0.09],[7.439,0.18],[7.458,0.25],[7.477,0.31],[7.497,0.54],[7.516,1.02],[7.535,1.82],[7.551,2.30],[7.568,2.65],[7.579,2.70],[7.593,2.46],[7.608,1.98],[7.622,1.50],[7.635,1.02],[7.651,0.86],[7.666,0.63],[7.684,0.57],[7.699,0.63],[7.718,0.70],[7.738,0.66],[7.757,0.54],[7.776,0.44],[7.795,0.39],[7.815,0.34],[7.834,0.25],[7.853,0.0],[7.87,-0.15],[7.89,-0.2],[7.91,-0.1],[7.93,0.2],[7.95,0.63],[7.969,1.11],[7.982,1.34],[7.998,1.62],[8.017,1.72],[8.036,1.82],[8.056,1.98],[8.071,2.10],[8.085,2.14],[8.098,2.07],[8.113,1.75],[8.133,1.02],[8.148,0.63],[8.162,0.34],[8.175,0.25],[8.191,0.28],[8.206,0.25],[8.22,0.12],[8.239,0.07],[8.258,0.21],[8.272,0.49],[8.287,0.44],[8.3,0.2],[8.316,0.0],[8.335,-0.1],[8.354,0.18],[8.374,0.25],[8.393,0.34],[8.407,0.1],[8.422,-0.15],[8.441,0.0],[8.461,0.12],[8.47,0.13]];

// ---------- Condition 1, Trial 2 ----------
const c1t2g0_obs = [[0.017,0.0],[1.2,0.0],[1.215,0.1],[1.228,0.3],[1.247,0.57],[1.266,1.02],[1.286,1.70],[1.3,2.3],[1.309,2.65],[1.317,1.82],[1.324,1.32],[1.332,1.30],[1.348,1.37],[1.371,1.35],[1.382,1.07],[1.402,0.67],[1.417,0.97],[1.436,1.17],[1.455,1.25],[1.475,1.07],[1.494,0.97],[1.517,1.52],[1.537,1.65],[1.549,1.76]];
const c1t2g0_fit = [[0.017,0.0],[0.05,0.015],[0.13,-0.013],[0.21,0.014],[0.29,-0.013],[0.37,0.015],[0.45,-0.014],[0.53,0.016],[0.61,-0.016],[0.69,0.018],[0.77,-0.019],[0.85,0.022],[0.93,-0.025],[1.01,0.03],[1.09,-0.045],[1.159,0.06],[1.208,-0.05],[1.228,0.17],[1.247,0.57],[1.266,1.07],[1.286,1.50],[1.305,1.87],[1.317,2.02],[1.332,1.82],[1.343,1.60],[1.363,1.25],[1.382,1.15],[1.402,1.05],[1.413,0.82],[1.432,0.55],[1.452,0.87],[1.467,1.22],[1.483,1.15],[1.498,1.02],[1.517,1.52],[1.537,1.65],[1.549,1.76]];
const c1t2g1_obs = [[1.583,0.0],[2.55,0.0],[2.6,0.0],[2.64,0.08],[2.67,0.11],[2.68,0.0],[2.71,0.0],[2.73,0.25],[2.756,0.13],[2.78,0.0],[2.81,0.0],[2.836,0.13],[2.86,0.44],[2.883,1.36],[2.901,2.29],[2.915,3.06],[2.926,3.12],[2.937,2.91],[2.948,3.12],[2.962,3.19],[2.977,2.60],[2.999,2.07],[3.018,1.95],[3.032,1.70]];
const c1t2g1_fit = [[1.583,0.0],[1.6,0.012],[1.68,-0.012],[1.76,0.012],[1.84,-0.012],[1.92,0.013],[2.0,-0.013],[2.08,0.014],[2.16,-0.015],[2.24,0.017],[2.32,-0.018],[2.4,0.02],[2.48,-0.025],[2.54,0.03],[2.568,0.04],[2.623,0.08],[2.659,-0.01],[2.688,-0.02],[2.714,0.13],[2.75,0.22],[2.78,0.0],[2.806,-0.01],[2.831,0.07],[2.86,0.13],[2.878,0.5],[2.897,1.67],[2.915,2.91],[2.933,3.37],[2.951,3.15],[2.962,3.25],[2.977,2.60],[2.999,2.07],[3.018,1.95],[3.032,1.70]];
const c1t2g2_obs = [[3.067,0.0],[4.0,0.0],[4.024,0.08],[4.05,0.16],[4.08,0.13],[4.1,0.0],[4.13,0.0],[4.155,0.06],[4.18,-0.03],[4.21,0.0],[4.254,0.0],[4.265,0.3],[4.28,0.51],[4.3,1.21],[4.315,1.74],[4.326,1.77],[4.345,1.47],[4.372,1.0],[4.391,0.90],[4.41,1.47],[4.426,1.74],[4.441,1.39],[4.468,1.04],[4.487,0.95],[4.506,1.47],[4.525,1.04],[4.541,1.05],[4.56,0.90],[4.579,0.42]];
const c1t2g2_fit = [[3.067,0.014],[3.086,-0.02],[3.11,0.02],[3.19,-0.015],[3.27,0.016],[3.35,-0.017],[3.43,0.018],[3.51,-0.02],[3.59,0.022],[3.67,-0.025],[3.75,0.027],[3.82,-0.03],[3.89,0.03],[3.967,-0.04],[4.024,0.09],[4.063,0.14],[4.101,0.06],[4.131,0.08],[4.17,0.03],[4.208,-0.02],[4.235,-0.10],[4.254,0.01],[4.28,0.86],[4.303,1.39],[4.33,1.67],[4.349,1.68],[4.376,1.02],[4.399,0.95],[4.426,1.80],[4.445,1.42],[4.472,0.98],[4.503,1.35],[4.522,1.12],[4.541,1.05],[4.56,0.90],[4.579,0.42]];
const c1t2g3_obs = [[4.633,0.0],[5.6,0.0],[5.65,0.05],[5.667,0.12],[5.686,0.16],[5.697,0.03],[5.72,0.0],[5.82,0.0],[5.858,0.2],[5.877,0.98],[5.896,1.57],[5.907,1.96],[5.915,2.02],[5.934,1.67],[5.954,1.37],[5.973,1.37],[5.992,1.47],[6.011,1.76],[6.031,1.37],[6.042,1.22],[6.061,1.35],[6.077,1.35],[6.096,1.63],[6.115,1.39],[6.134,1.63],[6.149,0.80]];
const c1t2g3_fit = [[4.633,0.0],[4.65,0.015],[4.73,-0.013],[4.81,0.014],[4.89,-0.013],[4.97,0.014],[5.05,-0.014],[5.13,0.015],[5.21,-0.015],[5.29,0.016],[5.37,-0.017],[5.45,0.02],[5.52,-0.025],[5.571,-0.02],[5.629,0.07],[5.667,0.07],[5.694,0.0],[5.724,0.0],[5.744,0.03],[5.774,0.07],[5.793,0.05],[5.82,-0.09],[5.839,-0.10],[5.858,0.20],[5.877,0.69],[5.896,1.22],[5.915,1.86],[5.927,2.06],[5.942,1.57],[5.954,1.37],[5.973,1.33],[5.992,1.61],[6.011,1.76],[6.031,1.37],[6.042,1.22],[6.061,1.35],[6.077,1.35],[6.096,1.63],[6.115,1.39],[6.134,1.63],[6.149,0.80]];
const c1t2g4_obs = [[6.17,0.0],[7.3,0.0],[7.313,0.05],[7.334,1.27],[7.354,2.62],[7.374,2.75],[7.394,2.35],[7.414,2.08],[7.435,1.94],[7.455,1.81],[7.475,1.48],[7.488,2.54],[7.5,1.73],[7.516,1.27],[7.54,0.86],[7.569,0.59],[7.597,0.30],[7.629,-0.05],[7.65,0.0],[7.67,0.03],[7.69,0.0],[7.71,0.03],[7.731,0.32],[7.751,1.13],[7.779,1.51]];
const c1t2g4_fit = [[6.17,0.03],[6.19,-0.05],[6.21,0.05],[6.226,-0.04],[6.316,0.04],[6.406,-0.04],[6.496,0.04],[6.586,-0.045],[6.676,0.05],[6.766,-0.05],[6.847,0.07],[6.948,-0.07],[7.037,0.08],[7.131,-0.09],[7.2,0.13],[7.232,0.05],[7.264,-0.22],[7.293,0.05],[7.313,0.73],[7.334,1.81],[7.354,2.48],[7.374,2.67],[7.394,2.48],[7.423,2.21],[7.443,1.94],[7.455,1.81],[7.488,1.81],[7.508,1.67],[7.528,1.27],[7.557,0.73],[7.585,0.62],[7.609,0.32],[7.629,0.13],[7.65,-0.05],[7.67,0.05],[7.69,-0.05],[7.71,0.08],[7.731,0.32],[7.751,1.13],[7.779,1.51]];
const c1t2g5_obs = [[7.82,0.0],[8.74,0.0],[8.765,0.81],[8.78,1.68],[8.796,1.72],[8.811,1.51],[8.83,1.40],[8.845,1.51],[8.858,1.63],[8.873,1.68],[8.889,1.51],[8.904,1.16],[8.92,1.11],[8.938,0.81],[8.953,0.64],[8.966,1.25],[8.984,1.21],[9.0,1.25],[9.016,1.29],[9.031,1.11],[9.05,1.04]];
const c1t2g5_fit = [[7.82,0.01],[7.836,-0.02],[7.861,0.02],[7.907,-0.01],[7.953,0.01],[8.015,-0.01],[8.077,0.02],[8.155,-0.02],[8.232,0.02],[8.31,-0.02],[8.387,0.03],[8.458,-0.03],[8.526,0.045],[8.595,-0.05],[8.65,0.08],[8.682,-0.04],[8.697,-0.13],[8.719,-0.14],[8.737,0.11],[8.759,0.64],[8.774,1.16],[8.79,1.51],[8.805,1.63],[8.82,1.51],[8.836,1.40],[8.858,1.52],[8.873,1.67],[8.889,1.65],[8.904,1.03],[8.929,1.03],[8.944,0.81],[8.966,0.46],[8.984,1.21],[9.0,1.25],[9.016,1.29],[9.031,1.11],[9.05,1.04]];

// ---------- Condition 1, Trial 3 ----------
const c1t3g0_obs = [[0.017,0.0],[0.96,0.0],[0.987,0.2],[1.008,0.0],[1.0375,0.05],[1.0625,0.15],[1.092,0.14],[1.125,0.10],[1.154,0.27],[1.175,0.30],[1.196,0.54],[1.208,0.84],[1.225,0.45],[1.246,0.67],[1.267,0.98],[1.288,1.40],[1.304,1.39],[1.321,1.06],[1.342,1.16],[1.371,1.77],[1.396,2.18],[1.408,2.62],[1.425,1.65],[1.446,1.03],[1.467,0.89],[1.479,1.13],[1.496,0.84],[1.517,0.84],[1.538,0.79],[1.55,1.0],[1.571,1.77],[1.588,1.32],[1.604,1.28],[1.617,1.28],[1.6375,0.59],[1.65,0.59],[1.667,0.47]];
const c1t3g0_fit = [[0.017,0.0],[0.029,0.02],[0.05,-0.01],[0.104,0.01],[0.154,-0.01],[0.229,0.01],[0.321,-0.015],[0.404,0.012],[0.496,-0.015],[0.592,0.017],[0.6875,-0.025],[0.7875,0.025],[0.883,-0.037],[0.979,0.07],[1.0375,0.03],[1.0625,0.05],[1.1125,0.15],[1.154,0.26],[1.175,0.30],[1.204,0.45],[1.229,0.67],[1.25,0.96],[1.27,1.06],[1.29,1.16],[1.32,1.11],[1.342,1.18],[1.3625,1.45],[1.383,1.77],[1.404,2.01],[1.417,2.04],[1.433,1.69],[1.45,1.16],[1.471,0.84],[1.4875,0.86],[1.508,1.11],[1.529,0.91],[1.546,0.79],[1.558,1.40],[1.579,1.89],[1.6,1.18],[1.617,1.28],[1.6375,0.59],[1.65,0.59],[1.667,0.47]];
const c1t3g1_obs = [[1.70,0.0],[2.66,0.0],[2.674,0.23],[2.693,0.21],[2.712,0.07],[2.73,0.25],[2.75,0.21],[2.776,0.29],[2.799,0.61],[2.818,1.10],[2.833,0.98],[2.852,0.83],[2.871,1.22],[2.89,1.6],[2.91,1.9],[2.93,1.95],[2.95,1.58],[2.96,1.85],[2.98,2.1],[2.995,2.0],[3.015,1.55],[3.03,1.01],[3.049,0.97],[3.067,0.8],[3.086,0.97],[3.105,1.01],[3.124,0.73],[3.143,0.83],[3.16,0.8],[3.173,0.61],[3.192,0.41],[3.2,0.15]];
const c1t3g1_fit = [[1.70,0.0],[1.72,-0.03],[1.736,0.02],[1.774,-0.02],[1.83,0.02],[1.906,-0.02],[1.989,0.02],[2.069,-0.02],[2.152,0.03],[2.239,-0.03],[2.33,0.035],[2.417,-0.035],[2.504,0.045],[2.587,-0.055],[2.644,0.075],[2.674,0.13],[2.7,0.11],[2.727,0.09],[2.75,0.17],[2.776,0.33],[2.802,0.61],[2.833,0.98],[2.859,1.32],[2.882,1.72],[2.9,1.95],[2.92,2.05],[2.94,2.08],[2.96,1.95],[2.98,2.0],[3.0,2.05],[3.015,1.7],[3.03,1.21],[3.049,0.69],[3.067,0.57],[3.086,1.06],[3.105,1.13],[3.124,0.61],[3.136,0.79],[3.151,0.81],[3.173,0.61],[3.192,0.41],[3.2,0.15]];
const c1t3g2_obs = [[3.234,0.0],[4.44,0.0],[4.448,0.3],[4.467,1.25],[4.482,2.30],[4.498,1.95],[4.517,1.98],[4.536,1.79],[4.555,1.63],[4.574,2.05],[4.593,2.52],[4.612,3.06],[4.62,3.32],[4.635,2.20],[4.651,2.20],[4.67,1.25],[4.693,0.62],[4.708,0.17],[4.727,0.05],[4.75,0.11]];
const c1t3g2_fit = [[3.234,0.016],[3.25,-0.016],[3.273,0.02],[3.33,-0.012],[3.388,0.014],[3.464,-0.012],[3.541,0.014],[3.617,-0.013],[3.713,0.015],[3.789,-0.014],[3.885,0.02],[3.962,-0.018],[4.057,0.03],[4.134,-0.03],[4.211,0.054],[4.287,-0.048],[4.352,0.086],[4.402,-0.127],[4.421,-0.127],[4.448,0.62],[4.467,1.57],[4.486,2.13],[4.509,2.14],[4.536,1.73],[4.555,1.51],[4.567,1.51],[4.586,1.89],[4.601,2.52],[4.616,2.76],[4.632,2.55],[4.651,1.89],[4.67,1.25],[4.693,0.62],[4.708,0.17],[4.727,0.05],[4.75,0.11]];
const c1t3g3_obs = [[4.789,0.0],[5.71,0.0],[5.716,0.0],[5.74,0.32],[5.767,0.73],[5.785,0.79],[5.8,0.26],[5.815,0.04],[5.84,0.0],[5.88,0.0],[5.9,0.04],[5.925,0.12],[5.942,0.68],[5.959,1.65],[5.973,2.34],[5.987,2.9],[6.001,2.48],[6.018,2.14],[6.035,2.34],[6.053,2.75],[6.066,2.6],[6.08,2.4],[6.1,1.92],[6.121,1.70],[6.138,1.51],[6.148,1.29]];
const c1t3g3_fit = [[4.789,0.005],[4.8,-0.015],[4.817,0.02],[4.86,-0.01],[4.91,0.015],[4.978,-0.012],[5.047,0.015],[5.133,-0.012],[5.201,0.015],[5.28,-0.012],[5.363,0.016],[5.435,-0.015],[5.51,0.022],[5.579,-0.02],[5.64,0.036],[5.699,-0.055],[5.716,0.0],[5.733,0.21],[5.761,0.54],[5.778,0.65],[5.795,0.65],[5.812,0.46],[5.829,0.12],[5.846,-0.01],[5.86,-0.11],[5.874,-0.01],[5.887,0.12],[5.905,0.17],[5.922,0.12],[5.939,0.24],[5.956,0.82],[5.973,1.65],[5.987,2.34],[6.001,2.56],[6.018,2.23],[6.035,2.25],[6.053,2.42],[6.066,2.65],[6.08,2.6],[6.1,1.92],[6.121,1.70],[6.138,1.51],[6.148,1.29]];
const c1t3g4_obs = [[6.183,0.0],[7.317,0.0],[7.33,0.04],[7.344,0.34],[7.36,0.64],[7.374,1.57],[7.387,2.85],[7.4,3.6],[7.41,3.9],[7.423,3.7],[7.443,2.67],[7.46,2.33],[7.477,2.19],[7.5,1.78]];
const c1t3g4_fit = [[6.183,0.0],[6.2,-0.03],[6.217,0.04],[6.256,-0.02],[6.306,0.026],[6.366,-0.02],[6.439,0.026],[6.512,-0.02],[6.588,0.03],[6.664,-0.02],[6.737,0.037],[6.813,-0.03],[6.886,0.044],[6.963,-0.037],[7.036,0.052],[7.095,-0.04],[7.145,0.063],[7.201,-0.048],[7.251,0.063],[7.291,-0.055],[7.317,0.063],[7.344,0.17],[7.36,0.45],[7.377,1.37],[7.39,2.67],[7.4,3.6],[7.41,3.95],[7.423,3.75],[7.443,2.67],[7.46,2.33],[7.477,2.19],[7.5,1.78]];
const c1t3g5_obs = [[7.534,0.0],[8.48,0.0],[8.491,0.0],[8.509,0.65],[8.527,1.39],[8.545,1.84],[8.564,1.57],[8.582,1.39],[8.6,0.87],[8.615,0.87],[8.633,1.10],[8.651,1.11],[8.669,0.97],[8.69,0.75],[8.705,0.65],[8.72,0.47],[8.742,0.64],[8.767,0.80],[8.785,0.86],[8.8,0.38],[8.82,0.10],[8.86,-0.01],[8.88,0.12],[8.902,0.42],[8.916,0.39],[8.931,0.35],[8.945,0.27],[8.964,0.24],[8.978,0.29]];
const c1t3g5_fit = [[7.534,0.0],[7.553,0.02],[7.571,-0.02],[7.611,0.016],[7.673,-0.01],[7.735,0.016],[7.807,-0.015],[7.884,0.018],[7.964,-0.02],[8.044,0.024],[8.127,-0.027],[8.211,0.04],[8.291,-0.05],[8.364,0.077],[8.393,0.05],[8.436,-0.13],[8.455,-0.14],[8.473,-0.02],[8.491,0.38],[8.509,0.84],[8.527,1.39],[8.545,1.75],[8.564,1.84],[8.582,1.6],[8.6,1.29],[8.618,1.11],[8.636,0.91],[8.655,0.91],[8.673,1.08],[8.684,1.08],[8.702,0.97],[8.72,0.75],[8.738,0.54],[8.749,0.49],[8.764,0.64],[8.782,0.78],[8.8,0.77],[8.818,0.47],[8.836,0.18],[8.855,0.07],[8.865,0.01],[8.88,0.12],[8.898,0.34],[8.916,0.39],[8.931,0.35],[8.945,0.27],[8.964,0.24],[8.978,0.29]];

const panels = [
 {row:0,col:0,obs:c0t0g0_obs,fit:c0t0g0_fit,target:0},{row:0,col:1,obs:c0t0g1_obs,fit:c0t0g1_fit,target:1},{row:0,col:2,obs:c0t0g2_obs,fit:c0t0g2_fit,target:2},{row:0,col:3,obs:c0t0g3_obs,fit:c0t0g3_fit,target:3},
 {row:0,col:4,obs:c0t0g4_obs,fit:c0t0g4_fit,target:4},{row:0,col:5,obs:c0t0g5_obs,fit:c0t0g5_fit,target:5},{row:0,col:6,obs:c0t0g6_obs,fit:c0t0g6_fit,target:6},{row:0,col:7,obs:c0t0g7_obs,fit:c0t0g7_fit,target:7},
 {row:1,col:0,obs:c0t1g0_obs,fit:c0t1g0_fit,target:0},{row:1,col:1,obs:c0t1g1_obs,fit:c0t1g1_fit,target:1},{row:1,col:2,obs:c0t1g2_obs,fit:c0t1g2_fit,target:2},{row:1,col:3,obs:c0t1g3_obs,fit:c0t1g3_fit,target:3},
 {row:1,col:4,obs:c0t1g4_obs,fit:c0t1g4_fit,target:4},{row:1,col:5,obs:c0t1g5_obs,fit:c0t1g5_fit,target:5},{row:1,col:6,obs:c0t1g6_obs,fit:c0t1g6_fit,target:6},{row:1,col:7,obs:c0t1g7_obs,fit:c0t1g7_fit,target:7},
 {row:2,col:0,obs:c1t2g0_obs,fit:c1t2g0_fit,target:0},{row:2,col:1,obs:c1t2g1_obs,fit:c1t2g1_fit,target:1},{row:2,col:2,obs:c1t2g2_obs,fit:c1t2g2_fit,target:2},
 {row:2,col:3,obs:c1t2g3_obs,fit:c1t2g3_fit,target:3},{row:2,col:4,obs:c1t2g4_obs,fit:c1t2g4_fit,target:4},{row:2,col:5,obs:c1t2g5_obs,fit:c1t2g5_fit,target:5},
 {row:3,col:0,obs:c1t3g0_obs,fit:c1t3g0_fit,target:0},{row:3,col:1,obs:c1t3g1_obs,fit:c1t3g1_fit,target:1},{row:3,col:2,obs:c1t3g2_obs,fit:c1t3g2_fit,target:2},
 {row:3,col:3,obs:c1t3g3_obs,fit:c1t3g3_fit,target:3},{row:3,col:4,obs:c1t3g4_obs,fit:c1t3g4_fit,target:4},{row:3,col:5,obs:c1t3g5_obs,fit:c1t3g5_fit,target:5}
];

// layout (matplotlib-like grid of axes)
const AX_W = 397.5, AX_H = 399, COL0 = 42.5, COL_STEP = 475.3, ROW0 = 32, ROW_STEP = 483;
const FONT = '"DejaVu Sans", Verdana, sans-serif';

function autoLim(series, k) {
  let mn = Infinity, mx = -Infinity;
  series.forEach(s => s.forEach(p => { if (p[k] < mn) mn = p[k]; if (p[k] > mx) mx = p[k]; }));
  const r = mx - mn;
  return [mn - 0.05 * r, mx + 0.05 * r];
}

const grid = [], xAxis = [], yAxis = [], series = [], graphic = [];
panels.forEach((p, i) => {
  const left = COL0 + p.col * COL_STEP, top = ROW0 + p.row * ROW_STEP;
  grid.push({left: left, top: top, width: AX_W, height: AX_H, show: true, borderColor: '#000', borderWidth: 1.1, backgroundColor: '#fff', containLabel: false});
  const xl = autoLim([p.obs, p.fit], 0), yl = autoLim([p.obs, p.fit], 1);
  const xd = xDecimals[i], yd = yDecimals[i];
  const xt = xTicks[i].filter(v => v >= xl[0] - 1e-9 && v <= xl[1] + 1e-9);
  const yt = yTicks[i].filter(v => v >= yl[0] - 1e-9 && v <= yl[1] + 1e-9);
  xAxis.push({type: 'value', gridIndex: i, min: xl[0], max: xl[1], scale: true,
    axisLine: {show: true, onZero: false, lineStyle: {color: '#000', width: 1.1}},
    splitLine: {show: false},
    axisTick: {show: true, inside: false, length: 5, customValues: xt, lineStyle: {color: '#000', width: 1.1}},
    axisLabel: {show: true, customValues: xt, margin: 8, color: '#000', fontSize: 13.9, fontFamily: FONT, formatter: v => Number(v).toFixed(xd)}
  });
  yAxis.push({type: 'value', gridIndex: i, min: yl[0], max: yl[1], scale: true,
    axisLine: {show: true, onZero: false, lineStyle: {color: '#000', width: 1.1}},
    splitLine: {show: false},
    axisTick: {show: true, inside: false, length: 5, customValues: yt, lineStyle: {color: '#000', width: 1.1}},
    axisLabel: {show: true, customValues: yt, margin: 9, color: '#000', fontSize: 13.9, fontFamily: FONT, formatter: v => Number(v).toFixed(yd)}
  });
  series.push({type: 'line', xAxisIndex: i, yAxisIndex: i, data: p.obs, symbol: 'none', showSymbol: false, silent: true, z: 2,
    lineStyle: {color: targetColors[p.target], width: 2.08, type: [7.7, 3.3], cap: 'butt', join: 'round'}});
  series.push({type: 'line', xAxisIndex: i, yAxisIndex: i, data: p.fit, symbol: 'none', showSymbol: false, silent: true, z: 3,
    lineStyle: {color: '#000', width: 2.08, type: 'solid', cap: 'butt', join: 'round'}});
  graphic.push({type: 'text', x: left + AX_W / 2, y: top - 15, silent: true,
    style: {text: titles[i], textAlign: 'center', textVerticalAlign: 'middle', fill: '#000', font: '16.7px ' + FONT}});
});

const chart = echarts.init(document.getElementById('c'), null, {renderer: 'canvas', width: 3771, height: 1914});
chart.setOption({backgroundColor: '#fff', animation: false, grid, xAxis, yAxis, series, graphic});
</script>
</body></html>
